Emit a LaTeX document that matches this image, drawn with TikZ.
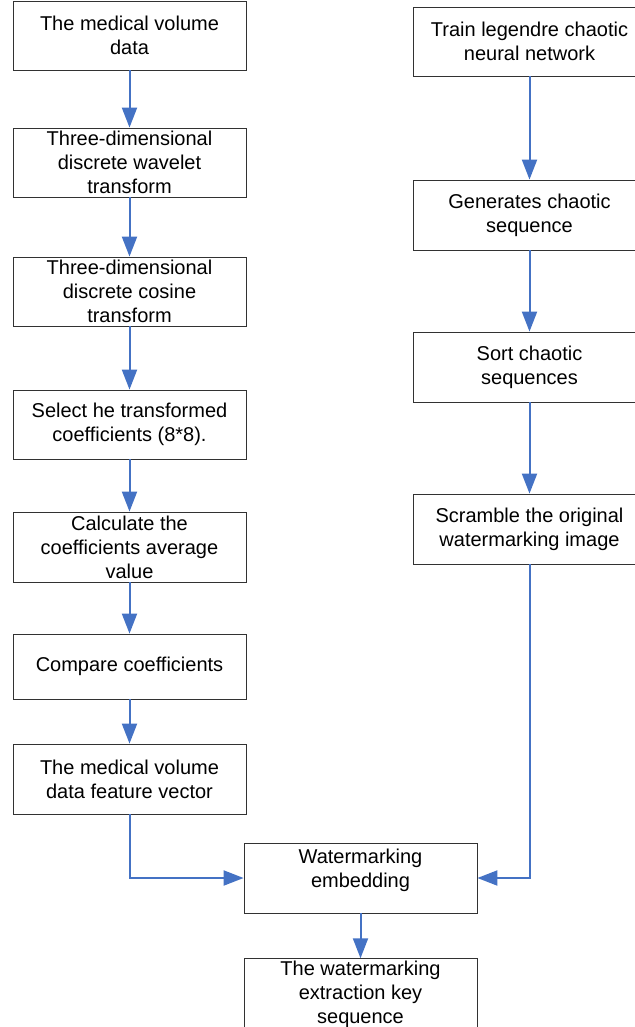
\documentclass[tikz,border=0pt]{standalone}
\usepackage{fontspec}
\setmainfont{Liberation Sans}
\usepackage{tikz}
\usetikzlibrary{
  arrows.meta,
  positioning
}
\definecolor{flowblue}{RGB}{68,114,196}
\definecolor{boxline}{RGB}{50,50,50}

\tikzset{
  procbox/.style={draw=boxline, line width=0.8pt, fill=white,
    minimum width=233pt, minimum height=69pt, inner sep=2pt,
    align=center, font=\fontsize{20}{24}\selectfont},
  flow/.style={draw=flowblue, line width=2pt,
    -{Triangle[length=20pt,width=15pt]}}
}

\begin{document}
\begin{tikzpicture}[x=1pt, y=-1pt]
  \useasboundingbox (0,0) rectangle (634,1027);

  % Left column: feature vector of the volume data
  \node[procbox] (vol)  at (129.5, 35.5) {The medical volume\\data};
  \node[procbox] (dwt)  at (129.5, 162.5) {Three-dimensional\\discrete wavelet\\transform};
  \node[procbox] (dct)  at (129.5, 291.5) {Three-dimensional\\discrete cosine\\transform};
  \node[procbox] (sel)  at (129.5, 424.5) {Select he transformed\\coefficients (8*8).};
  \node[procbox, minimum height=70pt] (avg)  at (129.5, 547) {Calculate the\\coefficients average\\value};
  \node[procbox, minimum height=65pt] (cmp)  at (129.5, 666.5) {Compare coefficients};
  \node[procbox, minimum height=70pt] (feat) at (129.5, 779) {The medical volume\\data feature vector};

  % Right column: chaotic scrambling of the watermark
  \node[procbox] (train) at (529.5, 41.5) {Train legendre chaotic\\neural network};
  \node[procbox, minimum height=70pt] (gen)   at (529.5, 215) {Generates chaotic\\sequence};
  \node[procbox, minimum height=70pt] (sortc) at (529.5, 367) {Sort chaotic\\sequences};
  \node[procbox, minimum height=70pt] (scram) at (529.5, 529) {Scramble the original\\watermarking image};

  % Bottom: embedding and key
  \node[procbox, minimum height=70pt] (embed) at (360.5, 878) {Watermarking\\embedding\\[-12pt]\strut};
  \node[procbox, minimum height=70pt] (key)   at (360.5, 994) {The watermarking\\extraction key\\sequence};

  % Arrows
  \draw[flow] (vol.south) -- (dwt.north);
  \draw[flow] (dwt.south) -- (dct.north);
  \draw[flow] (dct.south) -- (sel.north);
  \draw[flow] (sel.south) -- (avg.north);
  \draw[flow] (avg.south) -- (cmp.north);
  \draw[flow] (cmp.south) -- (feat.north);

  \draw[flow] (train.south) -- (gen.north);
  \draw[flow] (gen.south) -- (sortc.north);
  \draw[flow] (sortc.south) -- (scram.north);

  \draw[flow] (feat.south) |- (embed.west);
  \draw[flow] (scram.south) |- (embed.east);
  \draw[flow] (embed.south) -- (key.north);
\end{tikzpicture}
\end{document}
